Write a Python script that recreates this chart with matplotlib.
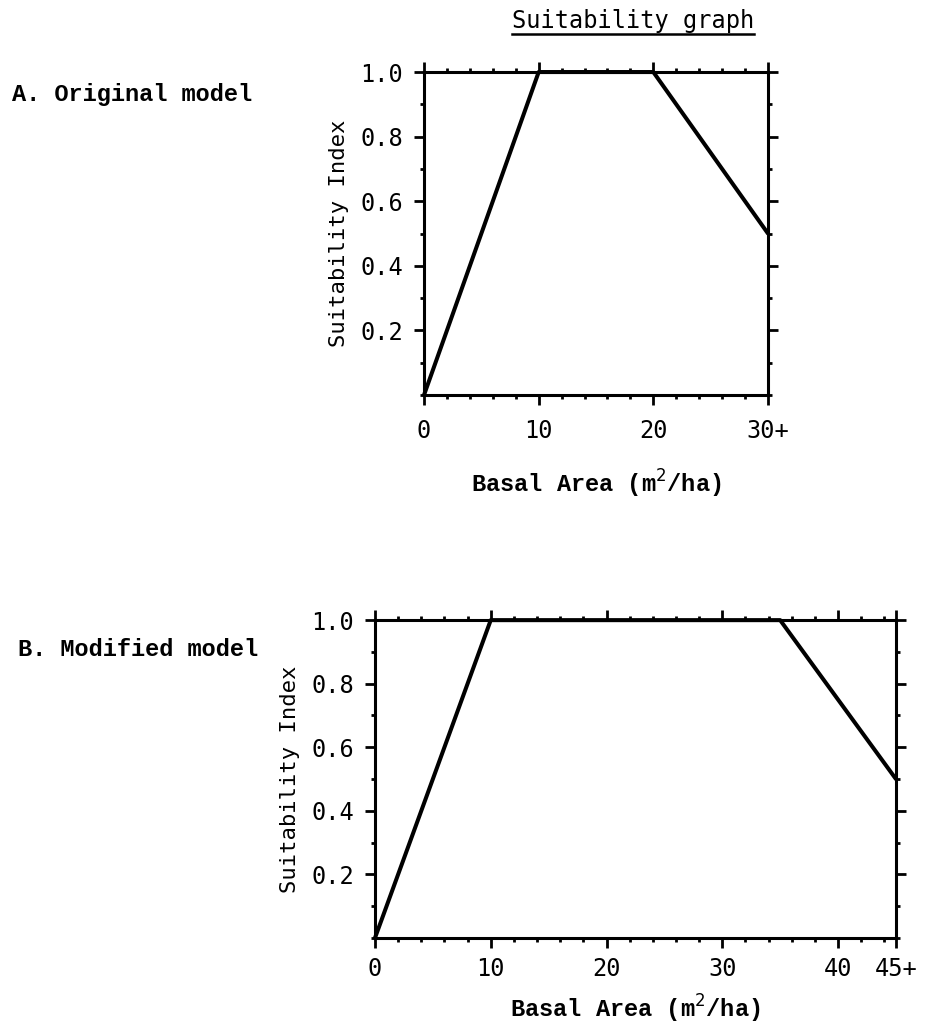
import matplotlib
matplotlib.use("Agg")
import matplotlib.pyplot as plt
from matplotlib.ticker import MultipleLocator, FixedLocator
from matplotlib.lines import Line2D

# Suitability index vs. basal area, two versions of the model
orig_x = [0, 10, 20, 30]
orig_y = [0.0, 1.0, 1.0, 0.5]
orig_ticks = [0, 10, 20, 30]
orig_ticklabels = ["0", "10", "20", "30+"]

mod_x = [0, 10, 35, 45]
mod_y = [0.0, 1.0, 1.0, 0.5]
mod_ticks = [0, 10, 20, 30, 40, 45]
mod_ticklabels = ["0", "10", "20", "30", "40", "45+"]

y_ticks = [0.2, 0.4, 0.6, 0.8, 1.0]
y_ticklabels = ["0.2", "0.4", "0.6", "0.8", "1.0"]

SANS = "DejaVu Sans Mono"
SERIF = "Liberation Mono"
FS = 17

fig = plt.figure(figsize=(9.36, 10.32), dpi=100)
fig.patch.set_facecolor("white")


def draw_panel(rect, xs, ys, xmax, ticks, ticklabels, xpad, xlabelpad):
    ax = fig.add_axes(rect)
    ax.plot(xs, ys, color="black", lw=2.9, solid_capstyle="round",
            solid_joinstyle="round", clip_on=False)
    ax.set_xlim(0, xmax)
    ax.set_ylim(0, 1.0)
    for s in ax.spines.values():
        s.set_linewidth(2.2)
    ax.xaxis.set_major_locator(FixedLocator(ticks))
    ax.xaxis.set_minor_locator(MultipleLocator(2))
    ax.set_xticklabels(ticklabels, fontfamily=SANS, fontsize=FS)
    ax.yaxis.set_major_locator(FixedLocator(y_ticks))
    ax.yaxis.set_minor_locator(MultipleLocator(0.1))
    ax.set_yticklabels(y_ticklabels, fontfamily=SANS, fontsize=FS)
    ax.tick_params(which="both", direction="out", top=True, right=True,
                   labeltop=False, labelright=False, color="black")
    ax.tick_params(which="major", length=7, width=2)
    ax.tick_params(which="minor", length=3, width=2)
    ax.tick_params(axis="x", which="major", pad=xpad)
    ax.tick_params(axis="y", which="major", pad=8)
    ax.set_ylabel("Suitability Index", fontfamily=SANS, fontsize=16, labelpad=8)
    ax.set_xlabel("Basal Area (m$^{2}$/ha)", fontfamily=SERIF, fontsize=FS,
                  fontweight="bold", labelpad=xlabelpad)
    return ax


ax_a = draw_panel([0.453, 0.6172, 0.3675, 0.313], orig_x, orig_y, 30,
                  orig_ticks, orig_ticklabels, 10, 18)
ax_b = draw_panel([0.4006, 0.0911, 0.5566, 0.308], mod_x, mod_y, 45,
                  mod_ticks, mod_ticklabels, 7, 8)

fig.text(12 / 936, 1 - 95 / 1032, "A. Original model", fontfamily=SERIF,
         fontsize=FS, fontweight="bold", va="center", ha="left")
fig.text(18 / 936, 1 - 649 / 1032, "B. Modified model", fontfamily=SERIF,
         fontsize=FS, fontweight="bold", va="center", ha="left")

title = fig.text(512 / 936, 1 - 21 / 1032, "Suitability graph", fontfamily=SANS,
                 fontsize=FS, va="center", ha="left")

# underline under the heading
fig.canvas.draw()
bb = title.get_window_extent().transformed(fig.transFigure.inverted())
fig.add_artist(Line2D([bb.x0, bb.x1], [1 - 34 / 1032] * 2, color="black",
                      lw=1.8, transform=fig.transFigure))

fig.savefig("out.png", dpi=100, facecolor="white")
